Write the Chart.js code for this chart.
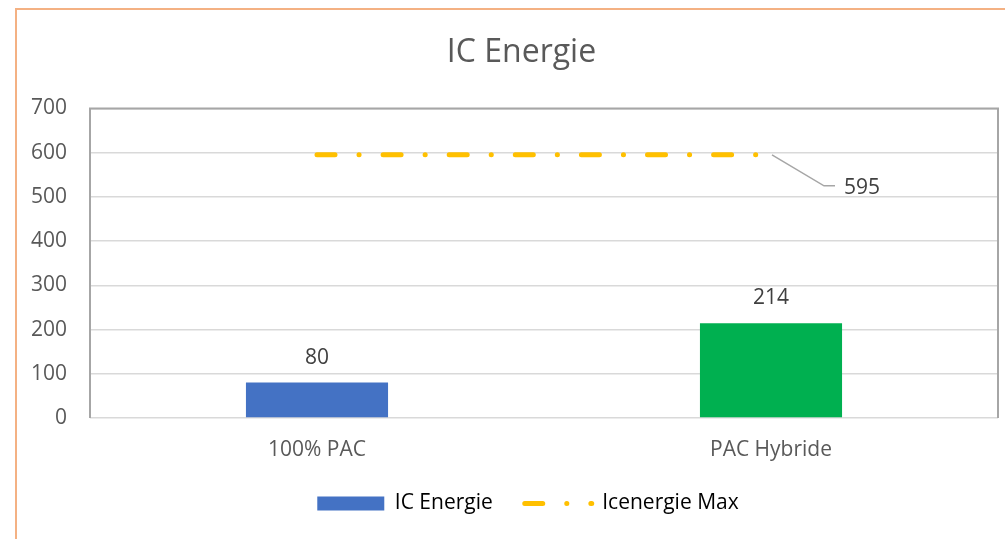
<!DOCTYPE html>
<html>
<head>
<meta charset="utf-8">
<title>IC Energie</title>
<script src="https://cdn.jsdelivr.net/npm/chart.js@4"></script>
<style>
    html, body { margin: 0; padding: 0; background: #fff; overflow: hidden; }
    #wrap { position: relative; width: 1005px; height: 539px; }
    #frame { position: absolute; left: 15px; top: 8px; width: 1100px; height: 600px; border: 2px solid #F4B183; }
    #chart { position: absolute; left: 0; top: 0; }
</style>
</head>
<body>
<div id="wrap">
    <div id="frame"></div>
    <canvas id="chart" width="1005" height="539"></canvas>
</div>
<script>
// Data
const categories = ['100% PAC', 'PAC Hybride'];
const icEnergie = [80, 214];
const icEnergieMax = [595, 595];
const yTicks = [0, 100, 200, 300, 400, 500, 600, 700];

const barColors = ['#4472C4', '#00B050'];
const maxColor = '#FFC000';
const textColor = '#595959';
const labelColor = '#404040';
const maxDash = [18, 24, 0.1, 24];

Chart.defaults.font.family = "'Open Sans', sans-serif";
Chart.defaults.color = textColor;

// plot area border (left, top, right) like the Excel chart
const plotBorder = {
    id: 'plotBorder',
    afterDatasetsDraw(chart) {
        const { ctx, chartArea: a } = chart;
        ctx.save();
        ctx.strokeStyle = '#A6A6A6';
        ctx.lineWidth = 2;
        ctx.beginPath();
        ctx.moveTo(a.left, a.bottom);
        ctx.lineTo(a.left, a.top);
        ctx.lineTo(a.right, a.top);
        ctx.lineTo(a.right, a.bottom);
        ctx.stroke();
        ctx.restore();
    }
};

// title and legend sit a bit right of the canvas centre in the original
const nudge = {
    id: 'nudge',
    afterLayout(chart) {
        if (chart.titleBlock) chart.titleBlock.left += 15;
        if (chart.legend) chart.legend.left += 28;
    }
};

// value labels over bars + callout for the max line
const valueLabels = {
    id: 'valueLabels',
    afterDraw(chart) {
        const ctx = chart.ctx;
        ctx.save();
        ctx.font = "21px 'Open Sans', sans-serif";
        ctx.fillStyle = labelColor;
        ctx.textBaseline = 'middle';
        ctx.textAlign = 'center';
        chart.getDatasetMeta(0).data.forEach((bar, i) => {
            ctx.fillText(String(icEnergie[i]), bar.x, bar.y - 25);
        });

        const pts = chart.getDatasetMeta(1).data;
        const p = pts[pts.length - 1];
        ctx.strokeStyle = '#A6A6A6';
        ctx.lineWidth = 1.5;
        ctx.beginPath();
        ctx.moveTo(p.x + 1, p.y);
        ctx.lineTo(p.x + 53, p.y + 31);
        ctx.lineTo(p.x + 64, p.y + 31);
        ctx.stroke();
        ctx.textAlign = 'left';
        ctx.fillText(String(icEnergieMax[icEnergieMax.length - 1]), p.x + 73, p.y + 33);
        ctx.restore();
    }
};

const PAD_LEFT = 30;

new Chart(document.getElementById('chart').getContext('2d'), {
    type: 'bar',
    data: {
        labels: categories,
        datasets: [{
            type: 'bar',
            label: 'IC Energie',
            data: icEnergie,
            backgroundColor: barColors,
            borderWidth: 0,
            categoryPercentage: 1,
            barPercentage: 0.313,
            order: 2
        }, {
            type: 'line',
            label: 'Icenergie Max',
            data: icEnergieMax,
            borderColor: maxColor,
            backgroundColor: maxColor,
            borderWidth: 5,
            borderDash: maxDash,
            borderCapStyle: 'round',
            pointRadius: 0,
            fill: false,
            order: 1
        }]
    },
    options: {
        responsive: false,
        devicePixelRatio: 1,
        animation: false,
        layout: { padding: { left: PAD_LEFT, right: 7, top: 0, bottom: 15 } },
        scales: {
            x: {
                grid: { display: false, drawTicks: false },
                border: { display: false },
                ticks: { padding: 19, color: textColor, font: { size: 21 } },
                afterFit(scale) { scale.height = 43; }
            },
            y: {
                min: 0,
                max: 700,
                afterBuildTicks(scale) { scale.ticks = yTicks.map(v => ({ value: v })); },
                grid: { color: '#D9D9D9', lineWidth: 1.5, drawTicks: false },
                border: { display: false },
                ticks: { padding: 23, color: textColor, font: { size: 21 } },
                afterFit(scale) { scale.width = 90 - PAD_LEFT; }
            }
        },
        plugins: {
            title: {
                display: true,
                text: 'IC Energie',
                color: textColor,
                font: { size: 32, weight: 'normal' },
                padding: { top: 34, bottom: 36 }
            },
            legend: {
                position: 'bottom',
                labels: {
                    usePointStyle: true,
                    pointStyleWidth: 67,
                    boxHeight: 14,
                    padding: 32,
                    color: textColor,
                    font: { size: 21 },
                    generateLabels() {
                        return [{
                            text: 'IC Energie',
                            fillStyle: barColors[0],
                            strokeStyle: barColors[0],
                            lineWidth: 0,
                            pointStyle: 'rect',
                            datasetIndex: 0
                        }, {
                            text: 'Icenergie Max',
                            fillStyle: maxColor,
                            strokeStyle: maxColor,
                            lineWidth: 5,
                            lineDash: maxDash,
                            lineCap: 'round',
                            pointStyle: 'line',
                            datasetIndex: 1
                        }];
                    }
                }
            },
            tooltip: { enabled: false }
        }
    },
    plugins: [plotBorder, nudge, valueLabels]
});
</script>
</body>
</html>
